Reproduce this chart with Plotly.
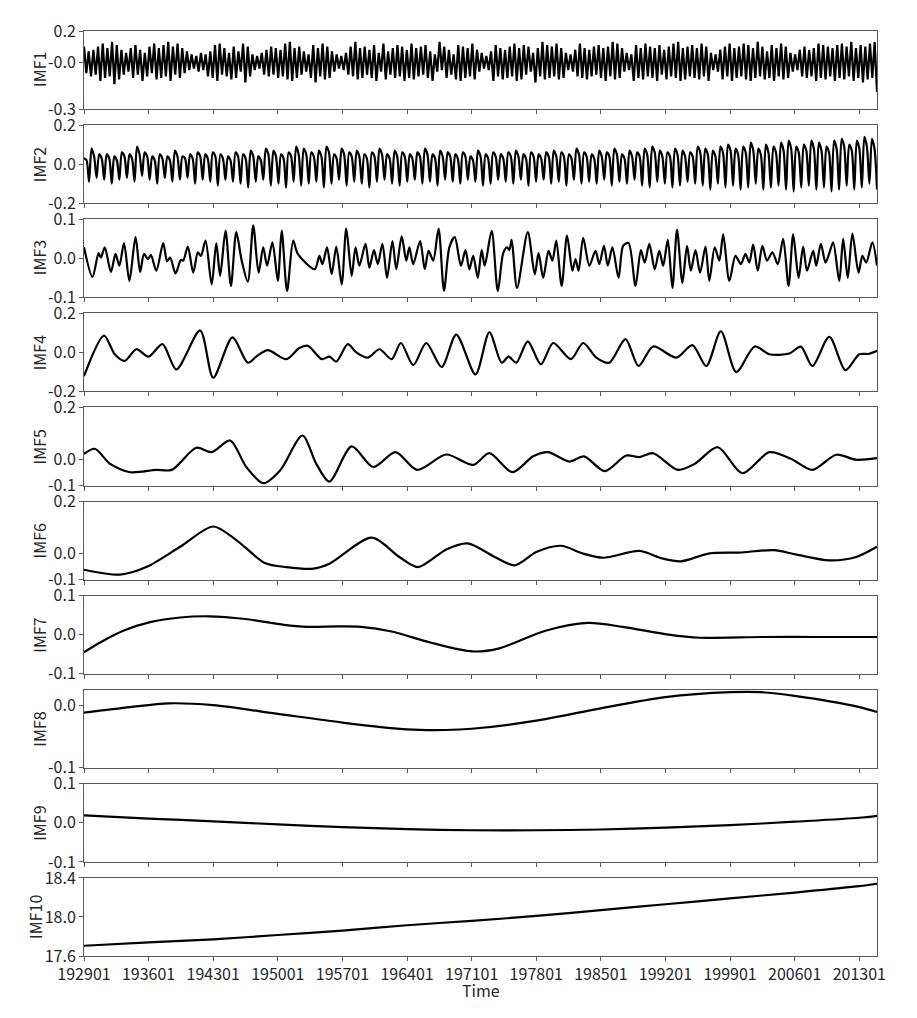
import numpy as np
import plotly.graph_objects as go
from plotly.subplots import make_subplots

# ---------------- data ----------------
tick_months = [0, 84, 168, 252, 336, 420, 504, 588, 672, 756, 840, 924, 1008]
tick_labels = ["192901", "193601", "194301", "195001", "195701", "196401", "197101",
               "197801", "198501", "199201", "199901", "200601", "201301"]
n_months = 1032

# IMF1: alternating extrema (peaks / troughs), hundredths
imf1_peaks = [10,7,8,10,12,9,13,11,8,6, 9,11,8,6,10,12,9,11,13,10,
              12,9,7,5,4,6,5,7,11,12, 9,6,10,7,12,10,5,4,6,8,
              10,9,8,12,13,9,10,7,5,11, 9,12,10,7,5,4,6,10,13,9,
              10,8,11,6,12,7,9,11,10,8, 12,9,10,11,7,5,13,10,8,5,
              11,10,9,12,8,6,4,7,11,9, 8,10,12,9,11,10,6,9,13,11,
              10,12,9,6,5,8,12,9,8,10, 11,9,10,13,12,9,6,5,11,9,
              12,10,9,11,8,10,12,13,9,10, 11,9,12,10,6,5,8,10,12,9,
              10,12,11,9,13,10,7,11,9,12, 10,6,5,8,10,8,9,12,11,10,
              9,11,12,10,13,9,11,10,12,13]
imf1_troughs = [-7,-9,-8,-12,-10,-9,-14,-11,-8,-6, -10,-8,-12,-9,-7,-11,-10,-9,-12,-8,
                -10,-7,-5,-4,-6,-5,-9,-10,-12,-8, -9,-11,-10,-6,-13,-9,-5,-4,-8,-9,
                -8,-10,-9,-11,-12,-10,-8,-6,-10,-13, -9,-11,-10,-6,-4,-5,-8,-9,-11,-10,
                -8,-10,-12,-6,-11,-8,-10,-9,-12,-10, -11,-9,-8,-10,-12,-6,-5,-10,-8,-11,
                -12,-10,-9,-11,-6,-4,-5,-12,-9,-11, -10,-9,-12,-11,-8,-6,-13,-9,-11,-10,
                -9,-11,-10,-5,-6,-9,-10,-11,-9,-8, -10,-12,-9,-11,-10,-6,-5,-12,-10,-11,
                -9,-10,-12,-8,-11,-9,-10,-12,-11,-9, -10,-11,-9,-12,-5,-6,-11,-9,-12,-10,
                -9,-11,-12,-10,-9,-11,-10,-12,-9,-11, -10,-6,-5,-9,-10,-9,-12,-10,-11,-9,
                -12,-10,-11,-9,-12,-10,-13,-11,-10,-19]

# IMF2: per cycle a hump, a shoulder on the top and a deep trough, hundredths
imf2_peaks = [3,8,5,5,4,6,5,9,6,4, 5,4,7,4,5,6,5,6,5,4,
              6,5,7,4,8,7,5,6,9,8, 6,7,9,5,8,6,7,5,6,8,
              5,7,6,5,6,8,5,7,6,5, 6,4,7,5,6,5,6,7,5,6,
              5,6,7,6,5,8,6,5,7,6, 8,5,7,6,8,9,7,6,8,7,
              6,9,8,7,9,10,8,9,11,8, 10,9,11,12,9,10,12,11,9,12,
              13,10,12,14,13]
imf2_shoulders = [2,4,3,3,2,4,3,5,4,2, 3,2,4,3,3,4,3,4,3,2,
                  4,3,4,2,5,4,3,4,5,5, 4,4,6,3,5,4,4,3,4,5,
                  3,4,4,3,4,5,3,4,4,3, 4,2,4,3,4,3,4,4,3,4,
                  3,4,4,4,3,5,4,3,4,4, 5,3,4,4,5,6,4,4,5,4,
                  4,6,5,4,6,7,5,6,7,5, 6,6,7,8,6,7,8,7,6,8,
                  9,7,8,9,8]
imf2_troughs = [-9,-7,-8,-10,-8,-7,-9,-6,-8,-10, -7,-9,-8,-7,-10,-8,-9,-11,-8,-9,
                -10,-12,-9,-8,-11,-10,-12,-9,-11,-10, -9,-12,-10,-8,-11,-9,-10,-12,-9,-8,
                -10,-11,-9,-8,-10,-9,-11,-8,-9,-10, -8,-9,-11,-10,-8,-9,-10,-8,-11,-9,
                -8,-10,-9,-11,-8,-10,-9,-10,-8,-11, -9,-10,-8,-11,-12,-9,-10,-12,-11,-9,
                -10,-11,-13,-10,-12,-11,-13,-12,-10,-13, -12,-11,-13,-14,-12,-11,-13,-12,-14,-13,
                -11,-13,-12,-10,-13]

imf3_month = [0,11,19,22,27,35,41,46,52,59,67,73,78,83,87,94,103,108,112,119,126,129,135,142,148,152,158,166,172,177,
              184,191,198,205,213,220,227,233,238,245,252,257,264,272,278,300,306,310,316,322,328,335,341,348,353,358,366,371,377,382,
              388,394,401,406,413,419,423,428,437,443,448,454,461,468,475,482,490,496,501,506,512,
              517,521,530,538,545,550,553,556,563,577,586,591,597,604,609,614,621,628,635,639,643,649,657,665,670,676,681,687,
              695,701,708,717,724,729,735,742,748,753,759,765,771,778,784,789,795,801,808,813,820,826,831,839,847,854,860,865,870,876,
              882,888,895,902,909,916,922,929,935,940,948,952,958,964,969,974,982,987,993,999,1007,1012,1017,1025,1031]
imf3_value = [0.028,-0.048,0.013,0.002,0.028,-0.035,0.011,-0.019,0.039,-0.058,0.054,-0.035,0.011,-0.002,0.008,-0.032,0.039,-0.008,0.002,-0.039,-0.004,-0.006,0.030,-0.037,0.015,0.006,0.045,-0.067,0.039,-0.045,
              0.071,-0.071,0.067,-0.006,-0.060,0.084,-0.037,0.028,-0.019,0.041,-0.058,0.071,-0.084,0.045,0.011,-0.028,0.006,-0.015,0.028,-0.041,0.030,-0.067,0.076,-0.045,0.028,-0.019,0.037,-0.024,0.021,-0.015,
              0.037,-0.050,0.044,-0.028,0.056,-0.006,0.028,-0.015,0.044,-0.028,0.019,-0.006,0.076,-0.083,0.028,0.054,-0.019,0.021,-0.028,0.006,-0.050,
              0.021,-0.019,0.070,-0.084,0.013,0.028,0.021,0.047,-0.076,0.067,-0.041,0.013,-0.050,0.019,-0.006,0.045,-0.071,0.058,-0.032,-0.002,-0.032,0.052,-0.019,0.019,-0.015,0.032,-0.019,0.028,
              -0.050,0.032,0.039,-0.071,0.021,-0.011,0.037,-0.028,0.019,-0.019,0.047,-0.076,0.073,-0.063,0.032,-0.032,0.021,-0.037,0.030,-0.058,0.028,-0.006,0.061,-0.058,0.006,-0.015,0.011,-0.011,0.035,-0.032,
              0.032,-0.006,0.015,-0.015,0.050,-0.071,0.061,-0.050,0.030,-0.032,0.019,-0.019,0.037,-0.011,0.013,0.041,-0.058,0.050,-0.050,0.063,-0.037,0.006,-0.011,0.041,-0.019]

imf4_month = [0,26,40,53,68,84,102,120,151,168,193,213,224,239,263,280,291,309,319,328,343,354,369,384,400,412,428,445,465,484,
              509,527,543,552,562,577,594,610,633,649,666,683,704,721,740,770,791,809,828,848,872,891,917,932,947,969,990,1008,1020,1031]
imf4_value = [-0.122,0.086,-0.010,-0.044,0.016,-0.022,0.042,-0.087,0.112,-0.130,0.077,-0.053,-0.022,0.011,-0.035,0.022,0.034,-0.035,-0.022,-0.047,
              0.042,0.000,-0.027,0.016,-0.035,0.048,-0.065,0.048,-0.075,0.091,
              -0.113,0.103,-0.053,-0.022,-0.053,0.056,-0.061,0.048,-0.035,0.048,-0.027,-0.053,0.068,-0.070,0.030,-0.027,0.037,-0.070,0.108,-0.101,
              0.030,-0.010,-0.006,0.029,-0.070,0.080,-0.091,-0.010,-0.008,0.008]

imf5_month = [0,14,34,60,94,114,146,166,190,211,233,255,284,302,319,348,376,405,433,471,506,
              527,557,584,603,631,650,677,705,722,740,772,794,824,856,891,919,947,978,1004,1031]
imf5_value = [0.022,0.041,-0.017,-0.049,-0.040,-0.040,0.045,0.028,0.073,-0.029,-0.091,-0.042,0.092,-0.017,-0.085,0.050,-0.029,0.028,-0.040,0.019,-0.021,
              0.024,-0.049,0.012,0.028,-0.008,0.012,-0.045,0.015,0.009,0.024,-0.040,-0.017,0.047,-0.053,0.028,0.003,-0.040,0.018,-0.001,0.005]

imf6_month = [0,47,81,125,168,198,235,263,298,319,374,410,434,471,499,
              534,560,588,620,649,675,722,752,776,812,852,897,925,969,1004,1031]
imf6_value = [-0.062,-0.081,-0.052,0.026,0.104,0.052,-0.036,-0.052,-0.058,-0.039,0.061,-0.013,-0.052,0.016,0.039,
              -0.013,-0.045,0.006,0.030,0.000,-0.016,0.010,-0.019,-0.030,0.000,0.004,0.013,-0.003,-0.026,-0.013,0.026]

imf7_month = [0,21,51,86,125,162,210,260,290,330,360,400,450,505,540,600,655,700,760,800,880,960,1031]
imf7_value = [-0.045,-0.020,0.010,0.032,0.044,0.047,0.040,0.025,0.020,0.021,0.020,0.008,-0.020,-0.043,-0.035,0.010,0.030,0.020,0.000,-0.008,-0.006,-0.006,-0.006]

imf8_month = [0,60,110,168,252,336,420,470,504,588,672,756,840,880,924,1008,1031]
imf8_value = [-0.011,-0.002,0.004,0.001,-0.013,-0.027,-0.038,-0.039,-0.037,-0.024,-0.004,0.014,0.022,0.022,0.016,-0.002,-0.010]

imf9_month = [0,84,168,252,336,420,504,588,672,756,840,924,1008,1031]
imf9_value = [0.019,0.011,0.004,-0.004,-0.011,-0.016,-0.019,-0.019,-0.017,-0.012,-0.006,0.003,0.013,0.018]

imf10_month = [0,84,168,252,336,420,504,588,672,756,840,924,1008,1031]
imf10_value = [17.705,17.74,17.77,17.815,17.86,17.915,17.96,18.01,18.07,18.13,18.19,18.25,18.315,18.34]

names = ["IMF1", "IMF2", "IMF3", "IMF4", "IMF5", "IMF6", "IMF7", "IMF8", "IMF9", "IMF10"]
y_ranges = [[-0.3, 0.2], [-0.2, 0.2], [-0.1, 0.1], [-0.2, 0.2], [-0.1, 0.2], [-0.1, 0.2],
            [-0.1, 0.1], [-0.1, 0.026], [-0.1, 0.1], [17.6, 18.4]]
y_tickvals = [[-0.3, 0.0, 0.2], [-0.2, 0.0, 0.2], [-0.1, 0.0, 0.1], [-0.2, 0.0, 0.2], [-0.1, 0.0, 0.2],
              [-0.1, 0.0, 0.2], [-0.1, 0.0, 0.1], [-0.1, 0.0], [-0.1, 0.0, 0.1], [17.6, 18.0, 18.4]]
y_ticktext = [["-0.3", "-0.0", "0.2"], ["-0.2", "0.0", "0.2"], ["-0.1", "0.0", "0.1"], ["-0.2", "0.0", "0.2"],
              ["-0.1", "0.0", "0.2"], ["-0.1", "0.0", "0.2"], ["-0.1", "0.0", "0.1"], ["-0.1", "0.0"],
              ["-0.1", "0.0", "0.1"], ["17.6", "18.0", "18.4"]]

# ---------------- build series ----------------
def interleave(*lists):
    out = []
    for group in zip(*lists):
        out.extend(v / 100.0 for v in group)
    return out

imf1_y = interleave(imf1_peaks, imf1_troughs)
imf1_x = np.linspace(0, n_months - 1, len(imf1_y))
imf2_y = interleave(imf2_peaks, imf2_shoulders, imf2_troughs)
imf2_x = np.linspace(0, n_months - 1, len(imf2_y))

series = [(imf1_x, imf1_y), (imf2_x, imf2_y), (imf3_month, imf3_value), (imf4_month, imf4_value),
          (imf5_month, imf5_value), (imf6_month, imf6_value), (imf7_month, imf7_value),
          (imf8_month, imf8_value), (imf9_month, imf9_value), (imf10_month, imf10_value)]

# page body has an 8px margin, so the figure is sized to fit the window
W, H = 909, 1010
ml, mr, mt, mb = 76, 40, 23, 62
plot_w = W - ml - mr
plot_h = H - mt - mb
gap = 16

fig = make_subplots(rows=10, cols=1, shared_xaxes=True, vertical_spacing=gap / plot_h)

FONT = "Noto Sans CJK SC, Noto Sans, DejaVu Sans, sans-serif"
AXC = "#595959"
TXT = "#262626"
title_x_px = [39, 39, 39, 39, 39, 39, 39, 39, 39, 35]

for i, (xs, ys) in enumerate(series):
    r = i + 1
    fig.add_trace(go.Scatter(x=list(xs), y=list(ys), mode="lines",
                             line=dict(color="black", width=2.2,
                                       shape="linear" if i == 0 else "spline",
                                       smoothing=0.8),
                             showlegend=False, hoverinfo="skip"), row=r, col=1)
    fig.update_yaxes(range=y_ranges[i], tickvals=y_tickvals[i], ticktext=y_ticktext[i],
                     row=r, col=1)
    yref = "y domain" if r == 1 else f"y{r} domain"
    fig.add_annotation(text=names[i], xref="paper", yref=yref,
                       x=-(84 - title_x_px[i]) / plot_w, y=0.5,
                       xanchor="center", yanchor="middle", textangle=-90, showarrow=False,
                       font=dict(family=FONT, size=16, color=TXT))

fig.update_xaxes(range=[0, n_months - 1], tickvals=tick_months, ticktext=tick_labels,
                 ticks="outside", ticklen=4, tickcolor=AXC, tickwidth=1,
                 showline=True, mirror=True, linecolor=AXC, linewidth=1,
                 showgrid=False, zeroline=False,
                 tickfont=dict(family=FONT, size=16, color=TXT))
for r in range(1, 10):
    fig.update_xaxes(showticklabels=False, row=r, col=1)
fig.update_yaxes(ticks="outside", ticklen=4, tickcolor=AXC, tickwidth=1,
                 showline=True, mirror=True, linecolor=AXC, linewidth=1,
                 showgrid=False, zeroline=False,
                 tickfont=dict(family=FONT, size=16, color=TXT))

fig.add_annotation(text="Time", xref="paper", yref="paper", x=0.5, y=-34 / plot_h,
                   xanchor="center", yanchor="middle", showarrow=False,
                   font=dict(family=FONT, size=16, color=TXT))

fig.update_layout(width=W, height=H, margin=dict(l=ml, r=mr, t=mt, b=mb, autoexpand=False),
                  paper_bgcolor="white", plot_bgcolor="white",
                  font=dict(family=FONT, size=16, color=TXT))

fig.write_html("out.html")
